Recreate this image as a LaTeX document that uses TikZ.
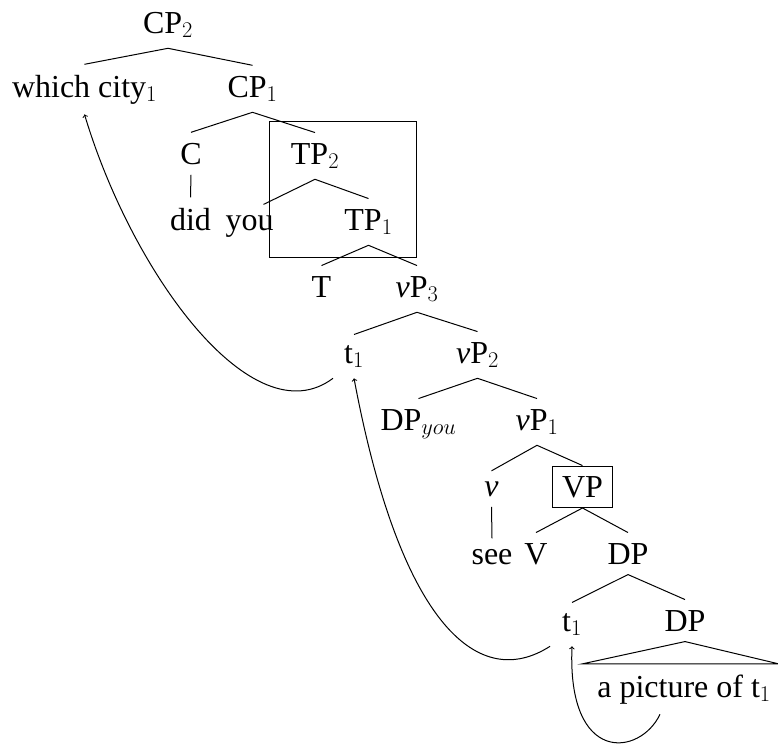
\RequirePackage{fix-cm}
\documentclass[tikz,border=0pt]{standalone}
\usepackage[no-math]{fontspec}
\setmainfont{Liberation Serif}
\usetikzlibrary{calc}
\begin{document}
\begin{tikzpicture}[x=1pt,y=-1pt, line width=1pt,
  tn/.style={anchor=base, inner xsep=2pt, inner ysep=10pt, font=\fontsize{32}{38}\selectfont},
  mv/.style={->}]
\useasboundingbox (0,0) rectangle (778,744);
% nodes
\node[tn] (cp2) at (168,33) {CP$_2$};
\node[tn] (wc) at (84.5,97) {which city$_1$};
\node[tn] (cp1) at (252.5,97) {CP$_1$};
\node[tn] (c) at (191,164) {C};
\node[tn] (tp2) at (315,164) {TP$_2$};
\node[tn] (did) at (190.5,230) {did};
\node[tn] (you) at (249.5,230) {you};
\node[tn] (tp1) at (368.5,230) {TP$_1$};
\node[tn] (T) at (321.5,297) {T};
\node[tn] (vp3) at (417,297) {\textit{v}P$_3$};
\node[tn] (t1a) at (354,363) {t$_1$};
\node[tn] (vp2) at (477.5,363) {\textit{v}P$_2$};
\node[tn] (dpy) at (418.5,430) {DP$_{you}$};
\node[tn] (vp1) at (537,430) {\textit{v}P$_1$};
\node[tn] (v) at (491.5,496) {\textit{v}};
\node[tn, draw, inner xsep=10pt] (vpb) at (582.5,497) {VP};
\node[tn] (see) at (492,564) {see};
\node[tn] (V) at (536,564) {V};
\node[tn] (dp1) at (628,564) {DP};
\node[tn] (t1b) at (572,631) {t$_1$};
\node[tn] (dp2) at (685,631) {DP};
\node[tn] (pic) at (684,697) {a picture of t$_1$};
% branches
\draw (wc.north) -- (cp2.south) -- (cp1.north);
\draw (c.north) -- (cp1.south) -- (tp2.north);
\draw (c.south) -- (did.north);
\draw ($(you.north)+(14,0)$) -- (tp2.south) -- (tp1.north);
\draw (T.north) -- (tp1.south) -- (vp3.north);
\draw (t1a.north) -- (vp3.south) -- (vp2.north);
\draw (dpy.north) -- (vp2.south) -- (vp1.north);
\draw (v.north) -- (vp1.south) -- (vpb.north);
\draw (v.south) -- (see.north);
\draw (V.north) -- (vpb.south) -- (dp1.north);
\draw (t1b.north) -- (dp1.south) -- (dp2.north);
\draw (dp2.south) -- ($(pic.north west)+(-13,0)$) -- ($(pic.north east)+(6,0)$) -- cycle;
% box around TP2
\draw (269,121.5) rectangle (416,257);
% movement arrows
\draw[mv] ($(t1a.south)+(-21,0)$) .. controls +(-80,60) and +(48,160) .. (wc.south);
\draw[mv] ($(t1b.south)+(-22,0)$) .. controls +(-70,45) and +(47,250) .. (t1a.south);
\draw[mv] ($(pic.south)+(-24,0)$) .. controls +(-20,42) and +(-5,119) .. (t1b.south);
\end{tikzpicture}
\end{document}
